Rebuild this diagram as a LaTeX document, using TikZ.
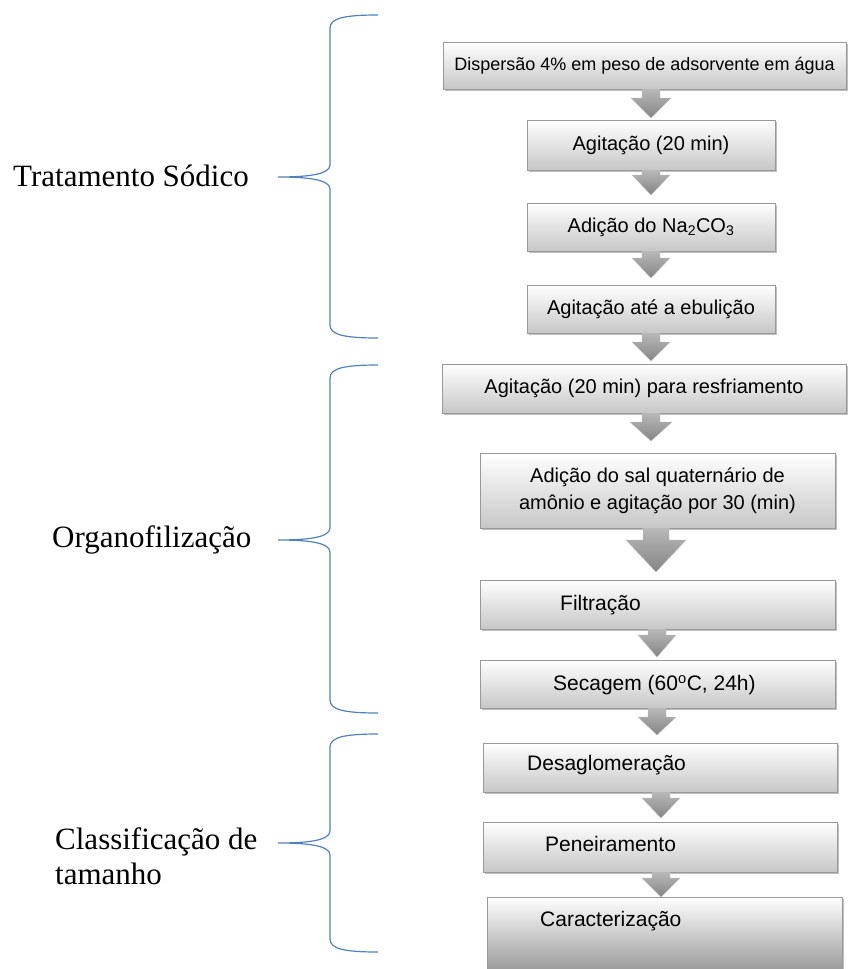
\documentclass[tikz,border=0pt]{standalone}
\usepackage{fontspec}
\setmainfont{Liberation Serif}
\newfontfamily\boxfont{Liberation Sans}
\usetikzlibrary{shadows,calc}
\definecolor{braceblue}{RGB}{79,129,189}
\tikzset{
  procbox/.style={rectangle, draw=black!40, line width=0.8pt, top color=white, bottom color=black!22,
    drop shadow={shadow xshift=2pt, shadow yshift=-2pt, fill=black, opacity=0.25}, inner sep=0pt, align=center},
  boxtext/.style={font=\boxfont\fontsize{20}{27}\selectfont},
  lowtext/.style={font=\boxfont\fontsize{21}{25}\selectfont, inner sep=0pt, anchor=west},
  phase/.style={font=\fontsize{31}{35}\selectfont, inner sep=0pt, align=left, anchor=west},
  arr/.style={top color=black!28, bottom color=black!48, draw=black!25, line width=0.4pt},
  bracestyle/.style={draw=braceblue, line width=1.2pt},
}
\newcommand{\flowarrow}[6]{% #1 from node, #2 cx, #3 head start, #4 tip, #5 shaft half, #6 head half
  \path[arr] let \p1=(#1.south) in
    ({(#2-#5)*1pt},\y1) -- ({#2-#5},#3) -- ({#2-#6},#3) -- (#2,#4) -- ({#2+#6},#3)
    -- ({#2+#5},#3) -- ({(#2+#5)*1pt},\y1) -- cycle;}
\newcommand{\phasebrace}[3]{% top mid bot
  \draw[bracestyle] (378,#1) .. controls (345,#1) and (330,{#1+3}) .. (330,{#1+13})
    -- (330,{#2-12}) .. controls (330,{#2-2}) and (305,#2) .. (278,#2)
    .. controls (305,#2) and (330,{#2+2}) .. (330,{#2+12})
    -- (330,{#3-13}) .. controls (330,{#3-3}) and (345,#3) .. (378,#3);}
\begin{document}
\begin{tikzpicture}[x=1pt,y=-1pt]
\path[use as bounding box] (0,0) rectangle (848,969);
\clip (0,0) rectangle (848,969);
% boxes
\node[procbox, minimum width=403pt, minimum height=47pt, font=\boxfont\fontsize{18}{22}\selectfont] (b1) at (644.5,65.5) {Dispersão 4\% em peso de adsorvente em água};
\node[procbox, boxtext, minimum width=248pt, minimum height=50pt] (b2) at (651,145) {Agitação (20 min)};
\node[procbox, boxtext, minimum width=248pt, minimum height=48pt] (b3) at (651,227) {Adição do Na\textsubscript{2}CO\textsubscript{3}};
\node[procbox, boxtext, minimum width=248pt, minimum height=48pt] (b4) at (651,309) {Agitação até a ebulição};
\node[procbox, boxtext, minimum width=404pt, minimum height=49pt] (b5) at (644,388.5) {Agitação (20 min) para resfriamento};
\node[procbox, boxtext, minimum width=355pt, minimum height=75pt] (b6) at (657.5,490.5) {Adição do sal quaternário de\\amônio e agitação por 30 (min)};
\node[procbox, minimum width=355pt, minimum height=49pt] (b7) at (657.5,604.5) {};
\node[procbox, minimum width=355pt, minimum height=48pt] (b8) at (657.5,684) {};
\node[procbox, minimum width=354pt, minimum height=49pt] (b9) at (660,767.5) {};
\node[procbox, minimum width=354pt, minimum height=50pt] (b10) at (660,847) {};
\node[procbox, minimum width=355pt, minimum height=93pt, bottom color=black!50] (b11) at (664.5,943.5) {};
% arrows
\flowarrow{b1}{651}{98}{118}{9}{20}
\flowarrow{b2}{651}{175}{195}{9}{19}
\flowarrow{b3}{651}{258}{278}{9}{19}
\flowarrow{b4}{651}{342}{361}{9}{19}
\flowarrow{b5}{651}{422}{441}{9}{21}
\flowarrow{b6}{656}{540}{572}{13}{30}
\flowarrow{b7}{657}{635}{657}{9}{19}
\flowarrow{b8}{657}{717}{735}{9}{19}
\flowarrow{b9}{661}{798}{818}{9}{19}
\flowarrow{b10}{661}{878}{897}{9}{19}
% texts in lower boxes
\node[lowtext] (t7) at (560,605) {Filtração};
\node[lowtext] (t8) at (553,685) {Secagem (60\textsuperscript{o}C, 24h)};
\node[lowtext] (t9) at (527,765) {Desaglomeração};
\node[lowtext] (t10) at (545,844) {Peneiramento};
\node[lowtext] (t11) at (540,921) {Caracterização};
% phase labels
\node[phase] (p1) at (13,176) {Tratamento Sódico};
\node[phase] (p2) at (52,540) {Organofilização};
\node[phase] (p3) at (55,856) {Classificação de\\tamanho};
% braces
\phasebrace{15}{177}{338}
\phasebrace{365}{540}{713}
\phasebrace{734}{843}{952}
\end{tikzpicture}
\end{document}
